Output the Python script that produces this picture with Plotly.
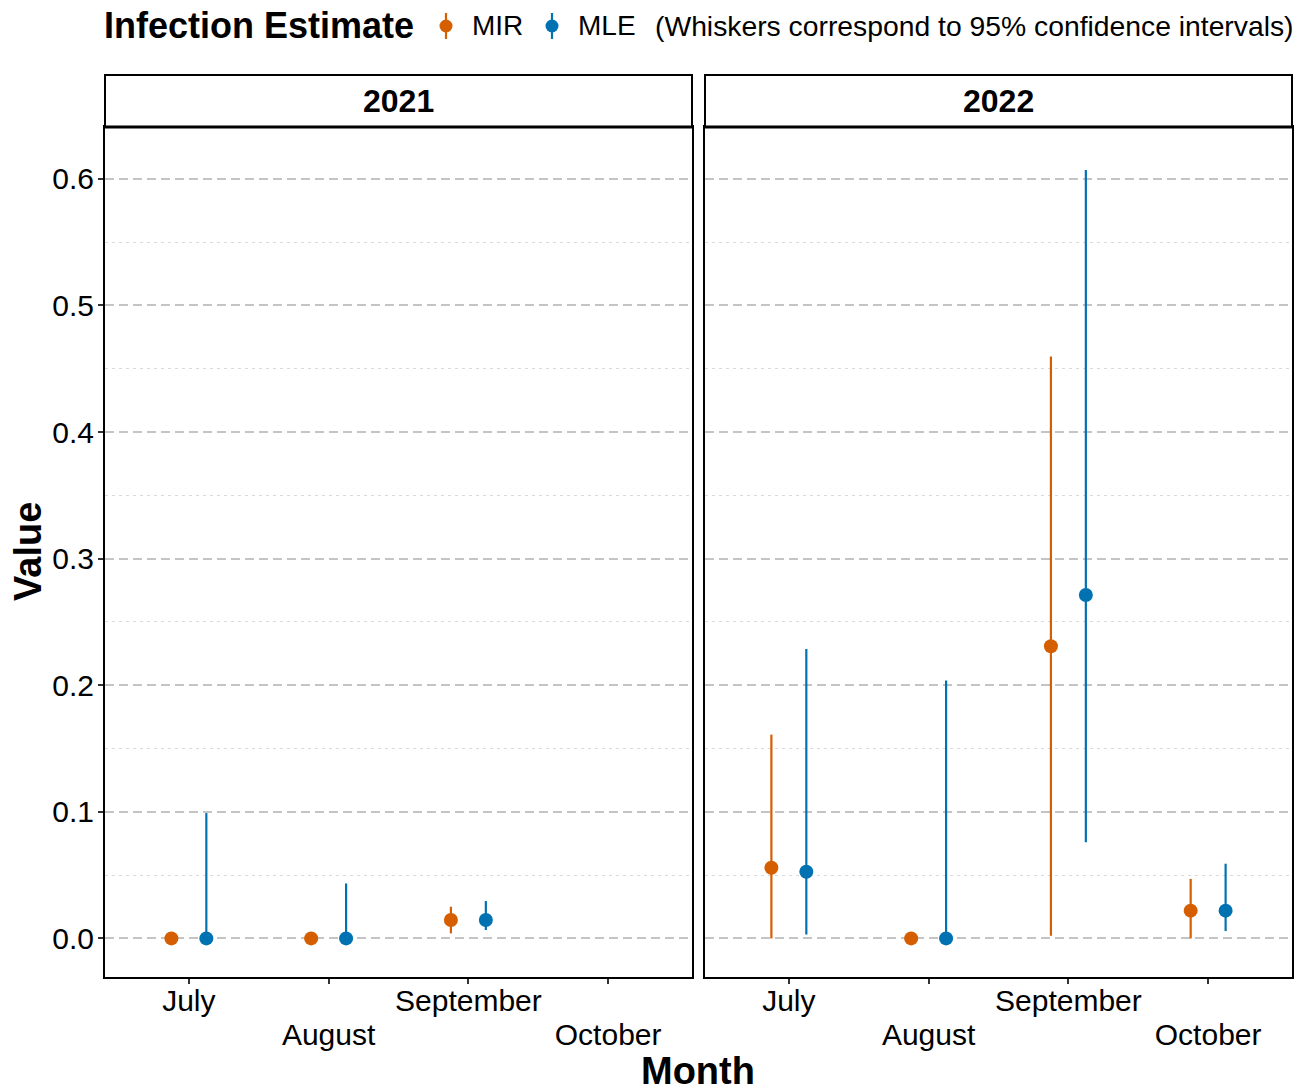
import plotly.graph_objects as go

# ---------------- data ----------------
months = ["July", "August", "September", "October"]
row1_labels = ["July", "", "September", ""]
row2_labels = ["August", "October"]
years = ["2021", "2022"]

# 2021 (no October data)
mir_2021 = [0.0, 0.0, 0.0145]
mir_2021_lo = [0.0, 0.0, 0.004]
mir_2021_hi = [0.0, 0.0, 0.025]
mle_2021 = [0.0, 0.0, 0.0145]
mle_2021_lo = [0.0, 0.0, 0.0066]
mle_2021_hi = [0.099, 0.0434, 0.0295]

# 2022
mir_2022 = [0.0558, 0.0, 0.2308, 0.0219]
mir_2022_lo = [0.0, 0.0, 0.002, 0.0]
mir_2022_hi = [0.161, 0.0, 0.4597, 0.047]
mle_2022 = [0.0526, 0.0, 0.2713, 0.0219]
mle_2022_lo = [0.003, 0.0, 0.076, 0.0058]
mle_2022_hi = [0.2287, 0.2037, 0.607, 0.059]

series_names = ["MIR", "MLE"]
colors = {"MIR": "#D55E00", "MLE": "#0072B2"}
dodge = {"MIR": -0.125, "MLE": 0.125}

data = {
    "2021": {"MIR": (mir_2021, mir_2021_lo, mir_2021_hi),
             "MLE": (mle_2021, mle_2021_lo, mle_2021_hi)},
    "2022": {"MIR": (mir_2022, mir_2022_lo, mir_2022_hi),
             "MLE": (mle_2022, mle_2022_lo, mle_2022_hi)},
}

# ---------------- layout geometry ----------------
W, H = 1307, 1089
L, R, T, B = 105, 15, 75, 112
PW, PH = W - L - R, H - T - B


def px(x):
    return (x - L) / PW


def py(y):
    return (H - B - y) / PH


FONT = "Liberation Sans, Arial, sans-serif"

fig = go.Figure()

for i, yr in enumerate(years):
    xa = "x" if i == 0 else "x2"
    ya = "y" if i == 0 else "y2"
    for s in series_names:
        vals, lo, hi = data[yr][s]
        xs = [months.index(m) + 1 + dodge[s] for m in months[:len(vals)]]
        fig.add_trace(go.Scatter(
            x=xs, y=vals, mode="markers", xaxis=xa, yaxis=ya,
            marker=dict(color=colors[s], size=14),
            error_y=dict(type="data", symmetric=False,
                         array=[h - v for h, v in zip(hi, vals)],
                         arrayminus=[v - l for v, l in zip(vals, lo)],
                         color=colors[s], thickness=2.2, width=0),
            showlegend=False, name=s,
        ))

# empty traces so the second-row label axes get drawn
for xa, ya in [("x3", "y"), ("x4", "y2")]:
    fig.add_trace(go.Scatter(x=[None], y=[None], xaxis=xa, yaxis=ya,
                             mode="markers", showlegend=False, hoverinfo="skip"))

TICKFONT = dict(family=FONT, size=30, color="black")
xcommon = dict(range=[0.4, 4.6], tickvals=[1, 2, 3, 4], ticktext=row1_labels,
               ticks="outside", ticklen=5, tickwidth=1.5, tickcolor="#333333",
               ticklabelstandoff=-9,
               showgrid=False, zeroline=False, showline=True, mirror=True,
               linecolor="black", linewidth=2, tickfont=TICKFONT)
x2row = dict(range=[0.4, 4.6], tickvals=[2, 4], ticktext=row2_labels,
             ticks="", showgrid=False, zeroline=False, showline=False,
             side="bottom", ticklabelstandoff=37, tickfont=TICKFONT)
ycommon = dict(range=[-0.0305, 0.641], dtick=0.1, tick0=0,
               showgrid=True, gridcolor="#c4c4c4", gridwidth=1.5, griddash="9px,5px",
               minor=dict(dtick=0.05, tick0=0, showgrid=True, gridcolor="#dadada",
                          gridwidth=1.2, griddash="3px,4px"),
               zeroline=False, showline=True, mirror=True,
               linecolor="black", linewidth=2, domain=[0, py(127)])

fig.update_layout(
    width=W, height=H,
    margin=dict(l=L, r=R, t=T, b=B),
    plot_bgcolor="white", paper_bgcolor="white",
    xaxis=dict(domain=[0, px(692)], anchor="y", **xcommon),
    xaxis2=dict(domain=[px(705), 1], anchor="y2", **xcommon),
    xaxis3=dict(domain=[0, px(692)], anchor="y", overlaying="x", **x2row),
    xaxis4=dict(domain=[px(705), 1], anchor="y2", overlaying="x2", **x2row),
    yaxis=dict(anchor="x", ticks="outside", ticklen=5, tickwidth=1.5, tickcolor="#333333",
               ticklabelstandoff=-2,
               tickformat=".1f", tickfont=TICKFONT, **ycommon),
    yaxis2=dict(anchor="x2", matches="y", showticklabels=False, ticks="", **ycommon),
    showlegend=False,
)

shapes = []
annotations = []

# facet strips
for (x0, x1), yr in zip([(105, 692), (705, 1292)], years):
    shapes.append(dict(type="rect", xref="paper", yref="paper",
                       x0=px(x0), x1=px(x1), y0=py(127), y1=py(75),
                       line=dict(color="black", width=2), fillcolor="white"))
    shapes.append(dict(type="line", xref="paper", yref="paper",
                       x0=px(x0), x1=px(x1), y0=py(127), y1=py(127),
                       line=dict(color="black", width=3)))
    annotations.append(dict(text="<b>%s</b>" % yr, xref="paper", yref="paper",
                            x=px((x0 + x1) / 2), y=py(101), showarrow=False,
                            xanchor="center", yanchor="middle",
                            font=dict(family=FONT, size=32, color="black")))

# axis titles
annotations.append(dict(text="<b>Month</b>", xref="paper", yref="paper",
                        x=px(698), y=py(1071), showarrow=False,
                        xanchor="center", yanchor="middle",
                        font=dict(family=FONT, size=38, color="black")))
annotations.append(dict(text="<b>Value</b>", xref="paper", yref="paper",
                        x=px(28), y=py(552), showarrow=False, textangle=-90,
                        xanchor="center", yanchor="middle",
                        font=dict(family=FONT, size=38, color="black")))

# legend (top)
annotations.append(dict(text="<b>Infection Estimate</b>", xref="paper", yref="paper",
                        x=px(102), y=py(26), showarrow=False,
                        xanchor="left", yanchor="middle",
                        font=dict(family=FONT, size=36, color="black")))
for s, gx in zip(series_names, [446, 552]):
    shapes.append(dict(type="line", xref="paper", yref="paper",
                       x0=px(gx), x1=px(gx), y0=py(13), y1=py(39),
                       line=dict(color=colors[s], width=2.2)))
    shapes.append(dict(type="circle", xref="paper", yref="paper",
                       x0=px(gx - 6.5), x1=px(gx + 6.5), y0=py(32.5), y1=py(19.5),
                       line=dict(color=colors[s], width=0), fillcolor=colors[s]))
    annotations.append(dict(text=s, xref="paper", yref="paper",
                            x=px(gx + 24), y=py(26), showarrow=False,
                            xanchor="left", yanchor="middle",
                            font=dict(family=FONT, size=28, color="black")))
annotations.append(dict(text="(Whiskers correspond to 95% confidence intervals)",
                        xref="paper", yref="paper", x=px(653), y=py(26), showarrow=False,
                        xanchor="left", yanchor="middle",
                        font=dict(family=FONT, size=28.3, color="black")))

fig.update_layout(shapes=shapes, annotations=annotations)
fig.write_html("out.html", config={"displayModeBar": False},
               post_script="document.body.style.margin='0';"
                           "document.body.style.overflow='hidden';")
